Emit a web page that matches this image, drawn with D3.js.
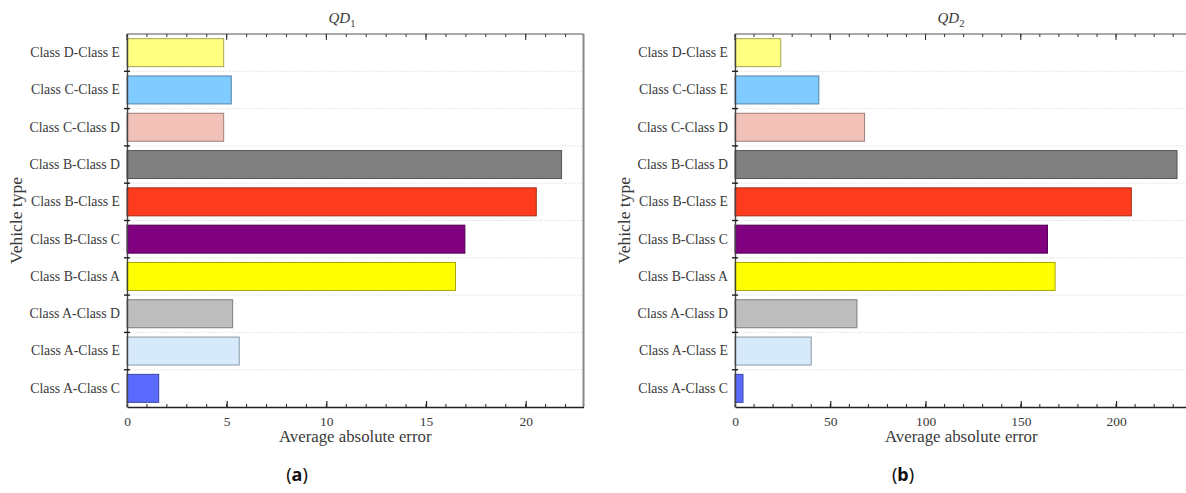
<!DOCTYPE html>
<html>
<head>
<meta charset="utf-8">
<script src="https://cdn.jsdelivr.net/npm/d3@7"></script>
<style>
  html, body { margin: 0; padding: 0; background: #fff; }
  svg { display: block; }
</style>
</head>
<body>
<svg id="chart" width="1186" height="493"></svg>
<script>
// ---- data ----
const categories = ["Class D-Class E","Class C-Class E","Class C-Class D","Class B-Class D","Class B-Class E",
                    "Class B-Class C","Class B-Class A","Class A-Class D","Class A-Class E","Class A-Class C"];
const barColors = ["#FFFF80","#80CBFF","#F2C2B8","#808080","#FF3D1E",
                   "#800080","#FFFF00","#BEBEBE","#D6EAFB","#5B6BFF"];
const qd1Values = [4.85, 5.23, 4.85, 21.8, 20.53, 16.95, 16.48, 5.3, 5.63, 1.59];
const qd2Values = [24, 44, 68, 232, 208, 164, 168, 64, 40, 4.2];
const qd1Ticks = [0, 5, 10, 15, 20];
const qd2Ticks = [0, 50, 100, 150, 200];
const xTitle = "Average absolute error";
const yTitle = "Vehicle type";

const svg = d3.select("#chart");
const serif = "'Liberation Serif', 'Times New Roman', serif";
const textCol = "#3a3a3a";

function panel(opt) {
  const { left, right, top, bottom, xmax, values, ticks, minorStep, titleSub, titleX, yTitleX, letter, letterX } = opt;
  const g = svg.append("g");
  const x = d3.scaleLinear().domain([0, xmax]).range([left, right]);
  const y = d3.scaleBand().domain(categories).range([top, bottom]).paddingInner(0.25).paddingOuter(0.125);
  const step = y.step();

  // gridlines at band boundaries
  const bounds = d3.range(1, categories.length).map(i => top + i * step);
  g.selectAll(".grid").data(bounds).join("line")
    .attr("x1", left).attr("x2", right).attr("y1", d => d).attr("y2", d => d)
    .attr("stroke", "#d8d8d8").attr("stroke-width", 0.8).attr("stroke-dasharray", "1.5,1.5");

  // bars
  g.selectAll(".bar").data(categories).join("rect")
    .attr("x", x(0)).attr("y", d => y(d))
    .attr("width", (d, i) => x(values[i]) - x(0))
    .attr("height", y.bandwidth())
    .attr("fill", (d, i) => barColors[i])
    .attr("stroke", (d, i) => d3.color(barColors[i]).darker(1.2))
    .attr("stroke-width", 1);

  // frame: top and right
  g.append("line").attr("x1", left).attr("x2", right).attr("y1", top).attr("y2", top)
    .attr("stroke", "#555").attr("stroke-width", 1.2);
  g.append("line").attr("x1", right).attr("x2", right).attr("y1", top).attr("y2", bottom)
    .attr("stroke", "#888").attr("stroke-width", 2);

  // x axis bottom (ticks inward)
  const minor = d3.range(0, xmax + 1e-9, minorStep);
  const xAxis = d3.axisBottom(x).tickValues(ticks).tickSizeInner(-6).tickSizeOuter(0).tickPadding(9);
  const gx = g.append("g").attr("transform", `translate(0,${bottom})`).call(xAxis);
  gx.select(".domain").attr("stroke", "#222").attr("stroke-width", 1.6);
  gx.selectAll(".tick line").attr("stroke", "#222").attr("stroke-width", 1.2);
  gx.selectAll(".tick text").attr("font-family", serif).attr("font-size", 13.5).attr("fill", textCol);
  gx.selectAll(".minor").data(minor).join("line")
    .attr("x1", d => x(d)).attr("x2", d => x(d)).attr("y1", 0).attr("y2", -3)
    .attr("stroke", "#222").attr("stroke-width", 1);

  // top ticks (mirror, inward)
  const gt = g.append("g").attr("transform", `translate(0,${top})`);
  gt.selectAll(".maj").data(ticks).join("line")
    .attr("x1", d => x(d)).attr("x2", d => x(d)).attr("y1", 0).attr("y2", 6)
    .attr("stroke", "#333").attr("stroke-width", 1.1);
  gt.selectAll(".min").data(minor).join("line")
    .attr("x1", d => x(d)).attr("x2", d => x(d)).attr("y1", 0).attr("y2", 3)
    .attr("stroke", "#333").attr("stroke-width", 1);

  // y axis
  const yAxis = d3.axisLeft(y).tickSize(0).tickPadding(7);
  const gy = g.append("g").attr("transform", `translate(${left},0)`).call(yAxis);
  gy.select(".domain").attr("stroke", "#444").attr("stroke-width", 1.4);
  gy.selectAll(".tick text").attr("font-family", serif).attr("font-size", 13.8).attr("fill", textCol);
  gy.selectAll(".btick").data(bounds).join("line")
    .attr("x1", -3).attr("x2", 3).attr("y1", d => d).attr("y2", d => d)
    .attr("stroke", "#222").attr("stroke-width", 1.4);

  // axis titles
  g.append("text").attr("x", (left + right) / 2).attr("y", 442).attr("text-anchor", "middle")
    .attr("font-family", serif).attr("font-size", 16.8).attr("fill", textCol).text(xTitle);
  g.append("text").attr("transform", `translate(${yTitleX},${(top + bottom) / 2}) rotate(-90)`)
    .attr("text-anchor", "middle").attr("font-family", serif).attr("font-size", 17.5).attr("fill", textCol).text(yTitle);

  // panel title QD_n
  const t = g.append("text").attr("x", titleX).attr("y", 23).attr("text-anchor", "middle")
    .attr("font-family", serif).attr("font-size", 15).attr("fill", textCol);
  t.append("tspan").attr("font-style", "italic").text("QD");
  t.append("tspan").attr("font-size", 10.5).attr("dy", 4).text(titleSub);

  // (a)/(b)
  const l = g.append("text").attr("x", letterX).attr("y", 481).attr("text-anchor", "middle")
    .attr("font-family", "'Noto Sans', 'DejaVu Sans', sans-serif").attr("font-size", 18).attr("fill", "#111");
  l.append("tspan").text("(");
  l.append("tspan").attr("font-weight", "bold").text(letter);
  l.append("tspan").text(")");
}

panel({ left: 127, right: 583.5, top: 34, bottom: 407, xmax: 22.9, values: qd1Values, ticks: qd1Ticks,
        minorStep: 1, titleSub: "1", titleX: 342, yTitleX: 22, letter: "a", letterX: 297 });
panel({ left: 735, right: 1187.5, top: 34, bottom: 407, xmax: 237.5, values: qd2Values, ticks: qd2Ticks,
        minorStep: 10, titleSub: "2", titleX: 951, yTitleX: 630, letter: "b", letterX: 903 });
</script>
</body>
</html>
